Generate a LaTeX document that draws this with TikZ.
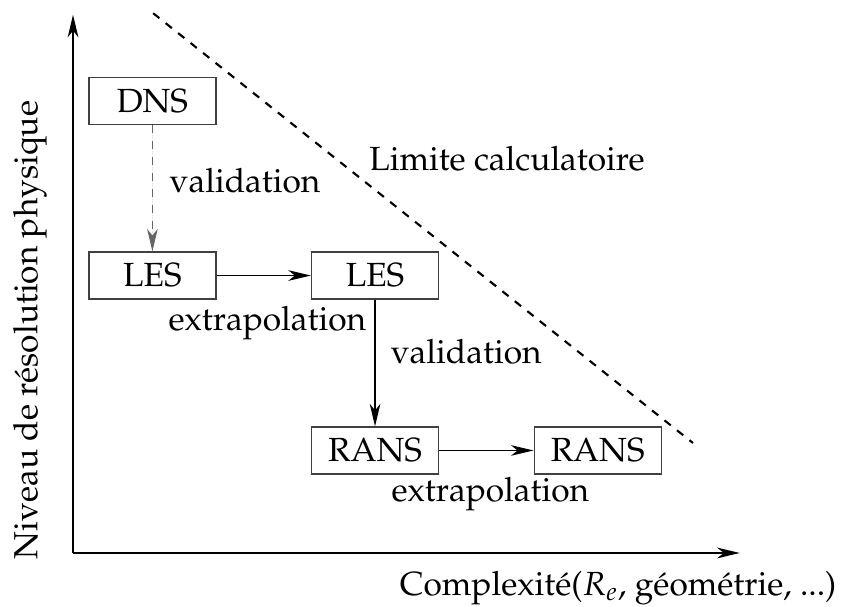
\documentclass[tikz,border=0pt,12pt]{standalone}
\usepackage[T1]{fontenc}
\usepackage{mathpazo}
\usepackage{tikz}
\usetikzlibrary{arrows.meta}
\tikzset{modele/.style = {shape = rectangle, draw = black!75, line width = 0.5pt, minimum width = 1.68cm, minimum height = 0.62cm}}
\tikzset{fleche/.style = {-{Stealth[length = 8.5pt, width = 4pt, inset = 2.5pt]}, line width = 0.5pt}}
\tikzset{axe/.style = {-{Stealth[length = 8.5pt, width = 4pt, inset = 2.5pt]}, line width = 0.9pt}}

\begin{document}
\fontsize{12.6pt}{15pt}\selectfont
\begin{tikzpicture}
			\useasboundingbox (-0.966, -0.714) rectangle (10.172, 7.315);

			\coordinate (o) at (0, 0);
			\coordinate (ymax) at (0, 7.12);
			\coordinate (xmax) at (8.82, 0);
			\coordinate (lim1) at (1.06, 7.14);
			\coordinate (lim2) at (8.20, 1.455);

			\node[modele] (dns) at (1.05, 5.98) {DNS};
			\node[modele] (les1) at (1.05, 3.67) {LES};
			\node[modele] (les2) at (3.995, 3.67) {LES};
			\node[modele] (rans1) at (3.995, 1.356) {RANS};
			\node[modele] (rans2) at (6.94, 1.356) {RANS};

			\node (val1) at (2.275, 4.93) {validation};
			\node (val2) at (5.20, 2.66) {validation};
			\node (ext1) at (2.57, 3.04) {extrapolation};
			\node (ext2) at (5.52, 0.78) {extrapolation};
			\node (limite) at (5.74, 5.22) {Limite calculatoire};

			\node[rotate = 90] (ylab) at (-0.57, 2.95) {Niveau de r\'esolution physique};
			\node (xlab) at (7.21, -0.46) {Complexit\'e($R_e$, g\'eom\'etrie, ...)};

			\draw[axe] (o) -- (ymax);
			\draw[axe] (o) -- (xmax);
			\draw[dashed, line width = 0.8pt] (lim1) -- (lim2);

			\draw[fleche, dashed, draw = black!60, fill = black!60] (dns) to (les1);
			\draw[fleche] (les1) to (les2);
			\draw[fleche] (les2) to (rans1);
			\draw[fleche] (rans1) to (rans2);
		\end{tikzpicture}
\end{document}
